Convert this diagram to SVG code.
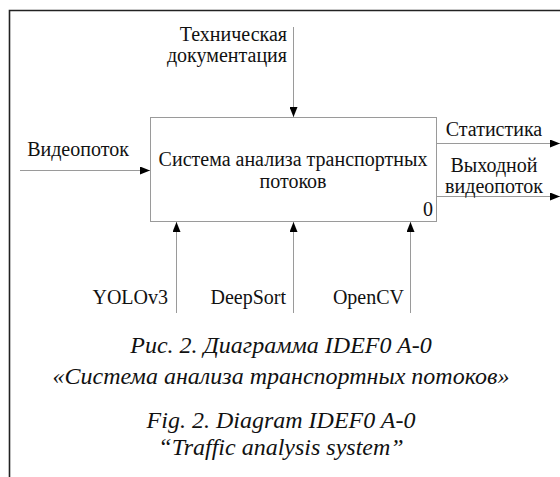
<svg xmlns="http://www.w3.org/2000/svg" width="560" height="477" viewBox="0 0 560 477">
<style>
text{font-family:"Liberation Serif","Times New Roman",serif;fill:#111;}
.lbl{font-size:20px;}
.cap{font-size:24px;font-style:italic;text-anchor:middle;}
.ln{stroke:#9a9a9a;stroke-width:1;fill:none;}
</style>
<defs>
<marker id="ah" markerWidth="10" markerHeight="8" refX="10" refY="4" orient="auto" markerUnits="userSpaceOnUse">
<path d="M0,0 L10,4 L0,8 Z" fill="#000"/>
</marker>
</defs>
<rect width="560" height="477" fill="#fff"/>
<path d="M9.5,477 V10.5 H560" stroke="#222" stroke-width="1.6" fill="none"/>
<g id="box">
<rect x="150.5" y="117.5" width="286" height="104" fill="#fff" stroke="#9a9a9a"/>
<text class="lbl" x="293" y="166" text-anchor="middle">Система анализа транспортных</text>
<text class="lbl" x="293" y="188" text-anchor="middle">потоков</text>
<text class="lbl" x="428" y="216" text-anchor="middle">0</text>
</g>
<g id="connectors">
<line class="ln" x1="20" y1="170.5" x2="150" y2="170.5" marker-end="url(#ah)"/>
<line class="ln" x1="293.5" y1="27" x2="293.5" y2="117" marker-end="url(#ah)"/>
<line class="ln" x1="437" y1="143.5" x2="560" y2="143.5" marker-end="url(#ah)"/>
<line class="ln" x1="437" y1="196.5" x2="560" y2="196.5" marker-end="url(#ah)"/>
<line class="ln" x1="176.5" y1="313" x2="176.5" y2="222" marker-end="url(#ah)"/>
<line class="ln" x1="293.5" y1="313" x2="293.5" y2="222" marker-end="url(#ah)"/>
<line class="ln" x1="410.5" y1="313" x2="410.5" y2="222" marker-end="url(#ah)"/>
</g>
<g id="labels">
<text class="lbl" x="78" y="156" text-anchor="middle">Видеопоток</text>
<text class="lbl" x="287" y="41" text-anchor="end">Техническая</text>
<text class="lbl" x="287" y="62" text-anchor="end">документация</text>
<text class="lbl" x="494" y="136" text-anchor="middle">Статистика</text>
<text class="lbl" x="494" y="172" text-anchor="middle">Выходной</text>
<text class="lbl" x="494" y="193" text-anchor="middle">видеопоток</text>
<text class="lbl" x="168" y="304" text-anchor="end">YOLOv3</text>
<text class="lbl" x="286" y="304" text-anchor="end">DeepSort</text>
<text class="lbl" x="404" y="304" text-anchor="end">OpenCV</text>
</g>
<g id="caption">
<text class="cap" x="281" y="353">Рис. 2. Диаграмма IDEF0 A-0</text>
<text class="cap" x="281" y="384">«Система анализа транспортных потоков»</text>
<text class="cap" x="281" y="428">Fig. 2. Diagram IDEF0 A-0</text>
<text class="cap" x="281" y="455">“Traffic analysis system”</text>
</g>
</svg>
